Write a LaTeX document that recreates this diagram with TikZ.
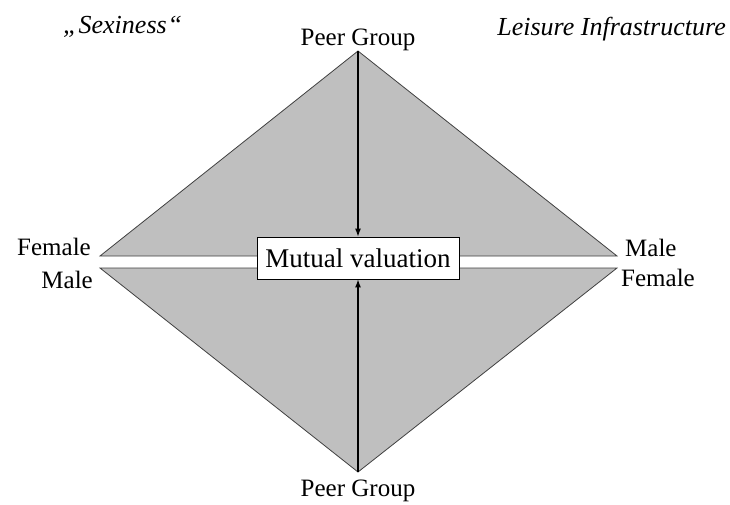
\documentclass[tikz,border=0pt]{standalone}
\usepackage{fontspec}
\setmainfont{Liberation Serif}
\usetikzlibrary{arrows.meta}
\begin{document}
\begin{tikzpicture}[x=1pt,y=-1pt]
		\tikzstyle{every node}=[inner sep=0pt, font=\fontsize{25}{30}\selectfont]
		\tikzstyle{tri}=[fill=black!25, draw=black!75, line width=0.8pt]
		\tikzstyle{pointer}=[-{Latex[length=8pt,width=6pt]}, line width=1.2pt]
		\useasboundingbox (0,0) rectangle (730,504);
		\coordinate (top) at (358,51);
		\coordinate (ul) at (100,256);
		\coordinate (ur) at (617,256);
		\coordinate (ll) at (100,268);
		\coordinate (lr) at (617,268);
		\coordinate (bot) at (358,472);
		\filldraw[tri]{(top)--(ul)--(ur)--cycle};
		\filldraw[tri]{(bot)--(ll)--(lr)--cycle};
		\node[draw, fill=white, line width=0.8pt, minimum width=202pt, minimum height=42pt, font=\fontsize{27}{32}\selectfont] (mv) at (358,258) {Mutual valuation};
		\draw[pointer]{(top)--(mv.north)};
		\draw[pointer]{(bot)--(mv.south)};
		\node[anchor=base] (pgt) at (358,45) {Peer Group};
		\node[anchor=base] (pgb) at (358,496) {Peer Group};
		\node[anchor=base east] (fl) at (91,255) {Female};
		\node[anchor=base east] (ml) at (93,288) {Male};
		\node[anchor=base west] (mr) at (625,256) {Male};
		\node[anchor=base west] (fr) at (621,286) {Female};
		\node[anchor=base west, font=\fontsize{26}{30}\selectfont\itshape] (sx) at (63,33) {„\kern1pt Sexiness\kern1pt“};
		\node[anchor=base east, font=\fontsize{26}{30}\selectfont\itshape] (li) at (726,35) {Leisure Infrastructure};
	\end{tikzpicture}
\end{document}
